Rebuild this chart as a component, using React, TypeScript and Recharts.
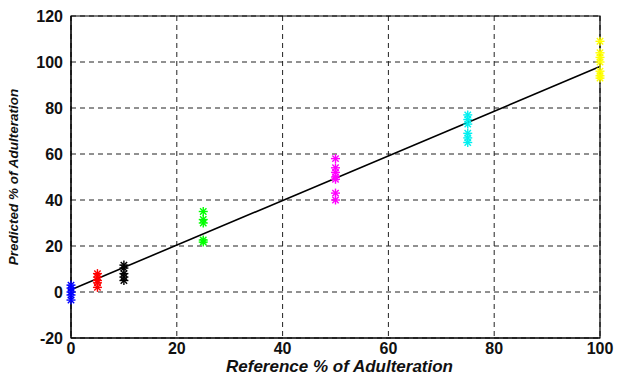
import React from 'react';
import {
  ComposedChart,
  Scatter,
  XAxis,
  YAxis,
  CartesianGrid,
  ReferenceLine,
  ReferenceArea,
} from 'recharts';

// reference % of adulteration per group
const groupRefs = [0, 5, 10, 25, 50, 75, 100];
const groupColors = ['#0000ff', '#ff0000', '#000000', '#00ff00', '#ff00ff', '#00f0f0', '#ffff00'];

// predicted values, one list per group
const predBlue = [3, 1.7, 0, -1.3, -3.5];
const predRed = [8, 6.5, 5, 4, 2];
const predBlack = [11.7, 10.4, 8, 6.5, 5];
const predGreen = [35, 31.5, 30, 22.6, 21.7];
const predMagenta = [58, 54, 52, 50, 49, 43, 40];
const predCyan = [77, 75, 73, 69, 67, 65];
const predYellow = [109, 104, 102, 100, 96, 94, 93];

const predictions = [predBlue, predRed, predBlack, predGreen, predMagenta, predCyan, predYellow];

// fitted regression line end points
const fitLine = [
  { x: 0, y: 1 },
  { x: 100, y: 98 },
];

const xTicks = [0, 20, 40, 60, 80, 100];
const yTicks = [-20, 0, 20, 40, 60, 80, 100, 120];

const tickStyle = {
  fill: '#111',
  fontSize: 16,
  fontWeight: 700,
  fontFamily: '"Liberation Sans", Arial, sans-serif',
};

const Asterisk = (props: any) => {
  const { cx, cy, fill } = props;
  const r = 4.5;
  const d = 3.2;
  return (
    <g stroke={fill} strokeWidth={1.4}>
      <line x1={cx - r} y1={cy} x2={cx + r} y2={cy} />
      <line x1={cx} y1={cy - r} x2={cx} y2={cy + r} />
      <line x1={cx - d} y1={cy - d} x2={cx + d} y2={cy + d} />
      <line x1={cx - d} y1={cy + d} x2={cx + d} y2={cy - d} />
    </g>
  );
};

const XLabel = (props: any) => {
  const { viewBox } = props;
  return (
    <text
      x={viewBox.x + viewBox.width / 2 + 4}
      y={viewBox.y + viewBox.height - 4}
      textAnchor="middle"
      fontSize={17}
      fontWeight={700}
      fontStyle="italic"
      fontFamily='"Liberation Sans", Arial, sans-serif'
      fill="#111"
    >
      Reference % of Adulteration
    </text>
  );
};

const YLabel = (props: any) => {
  const { viewBox } = props;
  const x = viewBox.x + 18;
  const y = viewBox.y + viewBox.height / 2;
  return (
    <text
      x={x}
      y={y}
      transform={`rotate(-90, ${x}, ${y})`}
      textAnchor="middle"
      fontSize={13.5}
      fontWeight={700}
      fontStyle="italic"
      fontFamily='"Liberation Sans", Arial, sans-serif'
      fill="#111"
    >
      Predicted % of Adulteration
    </text>
  );
};

export default function App() {
  const groups = groupRefs.map((ref, i) => ({
    color: groupColors[i],
    data: predictions[i].map((p) => ({ x: ref, y: p })),
  }));

  return (
    <div style={{ position: 'absolute', left: 0, top: 0, background: '#fff' }}>
      <ComposedChart
        width={618}
        height={376}
        margin={{ top: 16, right: 18, bottom: 0, left: 0 }}
      >
        <CartesianGrid stroke="#222" strokeDasharray="5 4" strokeWidth={1} />
        <XAxis
          type="number"
          dataKey="x"
          domain={[0, 100]}
          ticks={xTicks}
          height={38}
          tick={tickStyle}
          tickLine={false}
          axisLine={{ stroke: '#000' }}
          tickMargin={3}
          tickSize={2}
          label={<XLabel />}
        />
        <YAxis
          type="number"
          dataKey="y"
          domain={[-20, 120]}
          ticks={yTicks}
          width={71}
          tick={tickStyle}
          tickLine={false}
          axisLine={{ stroke: '#000' }}
          tickMargin={2}
          tickSize={6}
          label={<YLabel />}
        />
        <ReferenceArea x1={0} x2={100} y1={-20} y2={120} fill="none" stroke="#000" strokeWidth={1.2} />
        <ReferenceLine segment={fitLine} stroke="#000" strokeWidth={1.6} />
        {groups.map((g, i) => (
          <Scatter
            key={i}
            data={g.data}
            fill={g.color}
            shape={<Asterisk />}
            isAnimationActive={false}
          />
        ))}
      </ComposedChart>
    </div>
  );
}
